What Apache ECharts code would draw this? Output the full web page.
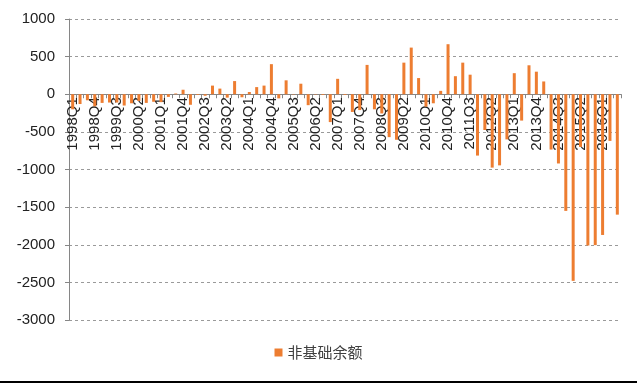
<!DOCTYPE html>
<html>
<head>
<meta charset="utf-8">
<script src="https://cdn.jsdelivr.net/npm/echarts@6/dist/echarts.min.js"></script>
<style>
  html, body { margin: 0; padding: 0; background: #fff; }
  #chart { width: 637px; height: 383px; box-sizing: border-box; border-bottom: 2px solid #000; }
</style>
</head>
<body>
<div id="chart"></div>
<script>
// 季度
const years = [];
for (let y = 1998; y <= 2016; y++) years.push(y);
const quarters = [];
years.forEach(y => {
  for (let q = 1; q <= 4; q++) {
    if (y === 2016 && q > 3) break;
    quarters.push(y + 'Q' + q);
  }
});

// 非基础余额
const values = [
  -200, -130, -80, -160, -115, -110, -110, -150, -120, -90,
  -115, -100, -105, -35, 10, 60, -140, -10, -20, 115,
  75, -45, 175, -40, 30, 95, 115, 400, -55, 185,
  -5, 140, -145, -5, -10, -370, 205, -10, -235, -210,
  390, -200, -255, -570, -605, 420, 620, 215, -165, -120,
  45, 665, 240, 420, 260, -815, -475, -975, -945, -600,
  280, -350, 385, 300, 170, -735, -920, -1550, -2480, -700,
  -2010, -2005, -1870, -620, -1600
];

const yMin = -3000;
const yMax = 1000;
const yStep = 500;

const chartH = 381;
const gridTop = 19;
const gridBottom = 61;
const plotH = chartH - gridTop - gridBottom;
// 把x轴（含标签）移到0的位置
const zeroOffset = -plotH * (0 - yMin) / (yMax - yMin);

const chart = echarts.init(document.getElementById('chart'));

const option = {
  animation: false,
  textStyle: { fontFamily: 'Liberation Sans, Noto Sans CJK SC, sans-serif' },
  grid: { left: 69, right: 16, top: gridTop, bottom: gridBottom },
  legend: {
    bottom: 16,
    left: 'center',
    itemWidth: 8,
    itemHeight: 8,
    icon: 'rect',
    textStyle: { fontSize: 15, color: '#404040', fontFamily: 'Noto Sans CJK SC' },
    data: ['非基础余额']
  },
  xAxis: {
    type: 'category',
    data: quarters,
    offset: zeroOffset,
    axisLine: { onZero: false, lineStyle: { color: '#868686' } },
    axisTick: { show: true, interval: 0, length: 4, lineStyle: { color: '#868686' } },
    axisLabel: {
      interval: 2,
      rotate: 90,
      fontSize: 15,
      color: '#222',
      margin: 3
    }
  },
  yAxis: {
    type: 'value',
    min: yMin,
    max: yMax,
    interval: yStep,
    axisLine: { show: true, lineStyle: { color: '#868686' } },
    axisTick: { show: true, length: 4, lineStyle: { color: '#868686' } },
    axisLabel: { fontSize: 15, color: '#222', margin: 14, formatter: v => String(v) },
    splitLine: { lineStyle: { type: [3, 3], color: '#9a9a9a' } }
  },
  series: [
    {
      name: '非基础余额',
      type: 'bar',
      data: values,
      barWidth: 3,
      itemStyle: { color: '#ED7D31' }
    }
  ]
};

chart.setOption(option);
</script>
</body>
</html>
